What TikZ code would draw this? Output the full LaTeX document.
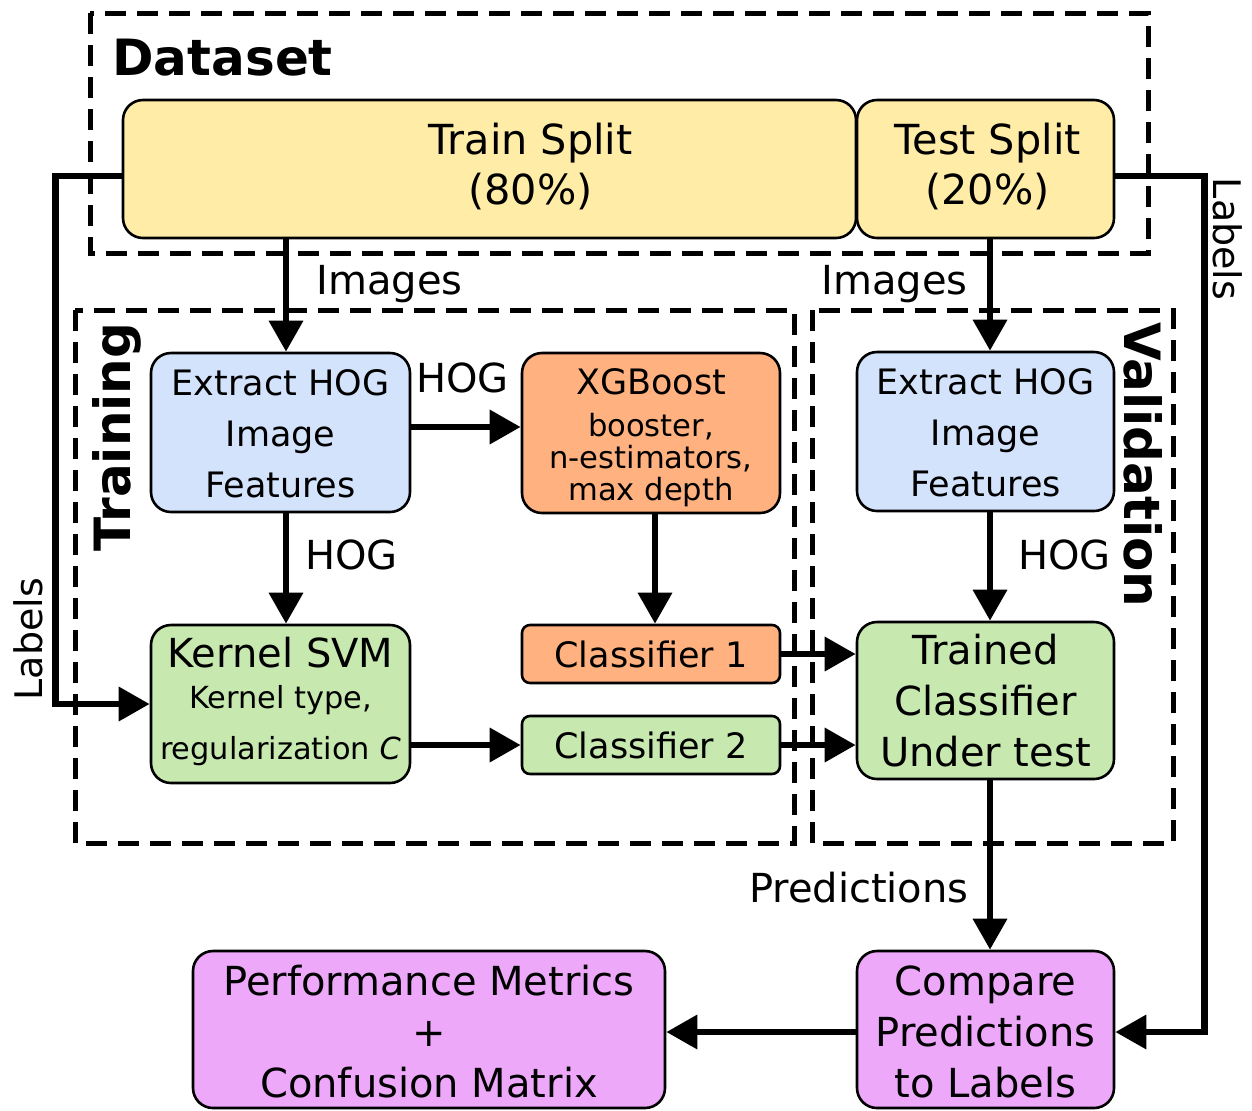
\documentclass[tikz,border=0pt]{standalone}
\usepackage{fontspec}
\setmainfont{DejaVu Sans}
\usetikzlibrary{arrows.meta}
\definecolor{splitfill}{HTML}{FFEDA7}
\definecolor{hogfill}{HTML}{D4E3FC}
\definecolor{xgbfill}{HTML}{FFB27F}
\definecolor{svmfill}{HTML}{C7E9B0}
\definecolor{evalfill}{HTML}{EDA8FA}
\newcommand{\fsz}[2]{\fontsize{#1}{#2}\selectfont}
\begin{document}
\begin{tikzpicture}[x=0.5pt,y=-0.5pt,
  box/.style={draw, line width=1.3pt, rounded corners=10pt, align=center, inner sep=0pt},
  smallbox/.style={box, rounded corners=4pt},
  grp/.style={draw, line width=2.5pt, dash pattern=on 10.5pt off 5.5pt},
  flow/.style={line width=3.3pt, -{Triangle[length=15.5pt,width=16.5pt]}},
  lbl/.style={font=\fsz{20}{24}, inner sep=0pt},
  grptitle/.style={font=\fsz{25}{30}\bfseries, inner sep=0pt},
]
\useasboundingbox (0,0) rectangle (1252,1110);

% group frames
\draw[grp] (90,13) rectangle (1148,253);
\draw[grp] (75,310) rectangle (794,843);
\draw[grp] (812,310) rectangle (1173,843);
\node[grptitle, anchor=base west] (tdata) at (112,75) {Dataset};
\node[grptitle, rotate=90] (ttrain) at (117,437) {Training};
\node[grptitle, rotate=-90] (tval) at (1143,465) {Validation};

% dataset splits
\node[box, fill=splitfill, minimum width=366.5pt, minimum height=69pt, font=\fsz{20.7}{25}]
  (train) at (489.5,169) {\hspace*{41pt}Train Split\\\hspace*{41pt}(80\%)\rule[-5.2pt]{0pt}{6pt}};
\node[box, fill=splitfill, minimum width=128.5pt, minimum height=69pt, font=\fsz{20.7}{25}]
  (test) at (985.5,169) {\hspace*{2pt}Test Split\\\hspace*{2pt}(20\%)\rule[-5.2pt]{0pt}{6pt}};

% training column
\node[box, fill=hogfill, minimum width=129.5pt, minimum height=79.5pt, font=\fsz{17.5}{25.5}]
  (ext) at (280.5,432.5) {\rule{0pt}{14pt}Extract HOG\\Image\\Features};
\node[box, fill=xgbfill, minimum width=129pt, minimum height=80pt, font=\fsz{15.3}{16}]
  (xgb) at (651,433) {{\fsz{17.5}{21}\rule{0pt}{18pt}XGBoost}\\[5pt]booster,\\n-estimators,\\max depth};
\node[box, fill=svmfill, minimum width=129.5pt, minimum height=79pt, font=\fsz{15.2}{25.5}]
  (svm) at (280.5,704) {{\fsz{20}{24}\rule{0pt}{17pt}Kernel SVM}\\[-5pt]Kernel type,\\regularization \textit{C}\rule[-7.6pt]{0pt}{8pt}};
\node[smallbox, fill=xgbfill, minimum width=129pt, minimum height=29pt, font=\fsz{17.5}{21}]
  (c1) at (651,654) {Classifier 1};
\node[smallbox, fill=svmfill, minimum width=129pt, minimum height=29pt, font=\fsz{17.5}{21}]
  (c2) at (651,745) {Classifier 2};

% validation column
\node[box, fill=hogfill, minimum width=128.5pt, minimum height=79.5pt, font=\fsz{17.5}{25.5}]
  (extv) at (985.5,431.5) {\rule{0pt}{14pt}Extract HOG\\Image\\Features};
\node[box, fill=svmfill, minimum width=128.5pt, minimum height=78.5pt, font=\fsz{20}{25.5}]
  (trained) at (985.5,700.5) {Trained\\Classifier\\Under test};

% evaluation
\node[box, fill=evalfill, minimum width=128.5pt, minimum height=78.5pt, font=\fsz{20}{25.5}]
  (cmp) at (985.5,1029.5) {\rule{0pt}{17pt}Compare\\Predictions\\to Labels};
\node[box, fill=evalfill, minimum width=236pt, minimum height=78.5pt, font=\fsz{20}{25.5}]
  (perf) at (429,1029.5) {\rule{0pt}{17pt}Performance Metrics\\+\\Confusion Matrix};

% connectors
\draw[flow] ([xshift=2.75pt]ext.north |- train.south) -- ([xshift=2.75pt]ext.north);
\draw[flow] ([xshift=2.25pt]test.south) -- ([xshift=2.25pt]extv.north);
\draw[flow] ([yshift=2.75pt]ext.east) -- ([yshift=2.75pt]ext.east -| xgb.west);
\draw[flow] ([xshift=2pt]xgb.south) -- ([xshift=2pt]c1.north);
\draw[flow] ([xshift=2.75pt]ext.south) -- ([xshift=2.75pt]svm.north);
\draw[flow] (c2.west -| svm.east) -- (c2.west);
\draw[flow] (c1.east) -- (c1.east -| trained.west);
\draw[flow] (c2.east) -- (c2.east -| trained.west);
\draw[flow] ([xshift=2.25pt]extv.south) -- ([xshift=2.25pt]trained.north);
\draw[flow] ([xshift=2.25pt]trained.south) -- ([xshift=2.25pt]cmp.north);
\draw[flow] ([yshift=-1.25pt]cmp.west) -- ([yshift=-1.25pt]perf.east);
\draw[flow] ([yshift=-3.5pt]test.east) -- ++(89,0) |- ([yshift=-1.25pt]cmp.east);
\draw[flow] ([yshift=-3.5pt]train.west) -- ++(-66,0) |- (svm.west);

% connector labels
\node[lbl, anchor=base west] (limg1) at (316,294) {Images};
\node[lbl, anchor=base east] (limg2) at (968,294) {Images};
\node[lbl, anchor=base west] (lhog1) at (416,392) {HOG};
\node[lbl, anchor=base west] (lhog2) at (305,569) {HOG};
\node[lbl, anchor=base west] (lhog3) at (1018,569) {HOG};
\node[lbl, anchor=base east] (lpred) at (969,902) {Predictions};
\node[lbl, font=\fsz{19}{23}, rotate=-90] (llab1) at (1228,239) {Labels};
\node[lbl, font=\fsz{19}{23}, rotate=90] (llab2) at (28,639) {Labels};
\end{tikzpicture}
\end{document}
